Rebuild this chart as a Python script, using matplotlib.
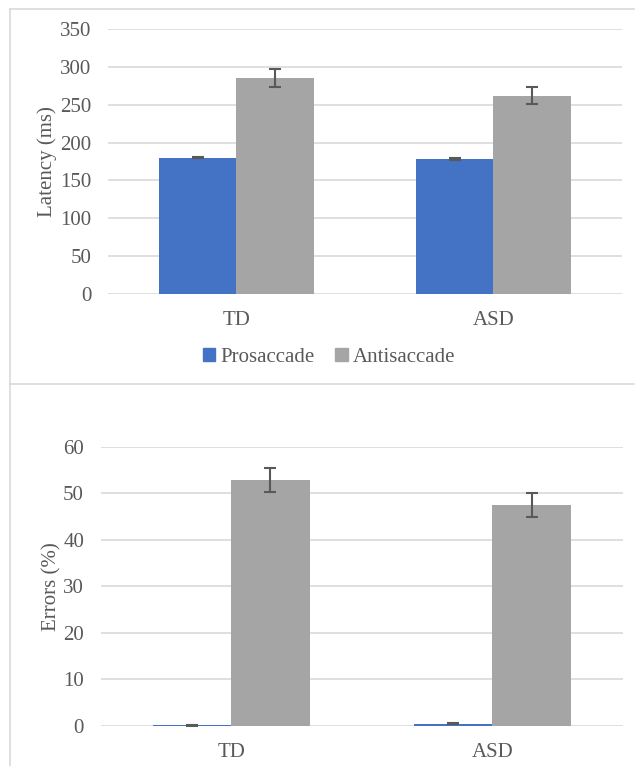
import matplotlib
matplotlib.use("Agg")
import matplotlib.pyplot as plt
import numpy as np
from matplotlib.patches import Patch
from matplotlib.lines import Line2D

plt.rcParams['font.family'] = ['Liberation Serif', 'DejaVu Serif']

groups = ["TD", "ASD"]
series = ["Prosaccade", "Antisaccade"]
latency_pro = [180, 178]
latency_pro_err = [1, 1]
latency_anti = [285, 262]
latency_anti_err = [12, 11.5]
errors_pro = [0.2, 0.5]
errors_pro_err = [0.1, 0.15]
errors_anti = [52.8, 47.5]
errors_anti_err = [2.6, 2.65]

BLUE = "#4472C4"
GRAY = "#A5A5A5"
TXT = "#595959"
GRID = "#D9D9D9"
FS = 15

W, H = 635, 766
fig = plt.figure(figsize=(W / 100, H / 100), dpi=100)

def ax_px(l, r, top, bot):
    return fig.add_axes([l / W, (H - bot) / H, (r - l) / W, (bot - top) / H])

# frames
fig.add_artist(Line2D([10 / W, 10 / W], [(H - 9) / H, 0], color=GRID, lw=1.2, transform=fig.transFigure))
fig.add_artist(Line2D([10 / W, 634 / W], [(H - 9) / H, (H - 9) / H], color=GRID, lw=1.2, transform=fig.transFigure))
fig.add_artist(Line2D([10 / W, 634 / W], [(H - 383.5) / H, (H - 383.5) / H], color=GRID, lw=1.2, transform=fig.transFigure))

bw = 0.3
x = np.arange(len(groups))

def style(ax, ymax, step, ylabel, lpad):
    ax.set_xlim(-0.5, len(groups) - 0.5)
    ax.set_ylim(0, ymax)
    ax.set_yticks(np.arange(0, ymax + 1, step))
    ax.yaxis.grid(True, color=GRID, lw=1.2)
    ax.set_axisbelow(True)
    for s in ax.spines.values():
        s.set_visible(False)
    ax.tick_params(length=0, labelsize=FS, colors=TXT)
    ax.tick_params(axis='y', pad=12)
    ax.tick_params(axis='x', pad=12.5)
    ax.set_xticks(x)
    ax.set_xticklabels(groups)
    ax.set_ylabel(ylabel, fontsize=FS, color=TXT, labelpad=lpad)

ekw = dict(ecolor=TXT, elinewidth=1.5, capsize=4, capthick=1.5)

# top chart
ax1 = ax_px(108, 622, 29, 294)
ax1.bar(x - bw / 2, latency_pro, bw, color=BLUE, yerr=latency_pro_err, error_kw=ekw, label=series[0], zorder=2)
ax1.bar(x + bw / 2, latency_anti, bw, color=GRAY, yerr=latency_anti_err, error_kw=ekw, label=series[1], zorder=2)
style(ax1, 350, 50, "Latency (ms)", 2)
handles = [Patch(color=BLUE, label=series[0]), Patch(color=GRAY, label=series[1])]
fig.legend(handles=handles, loc='center', bbox_to_anchor=(329 / W, (H - 357) / H), ncol=2,
           frameon=False, fontsize=FS, labelcolor=TXT, handlelength=0.6, handleheight=0.6,
           handletextpad=0.25, columnspacing=1.0)

# bottom chart
ax2 = ax_px(100.7, 623, 446.7, 726)
ax2.bar(x - bw / 2, errors_pro, bw, color=BLUE, yerr=errors_pro_err, error_kw=ekw, zorder=2)
ax2.bar(x + bw / 2, errors_anti, bw, color=GRAY, yerr=errors_anti_err, error_kw=ekw, zorder=2)
style(ax2, 60, 10, "Errors (%)", 1)

fig.savefig("out.png", dpi=100, facecolor="white")
